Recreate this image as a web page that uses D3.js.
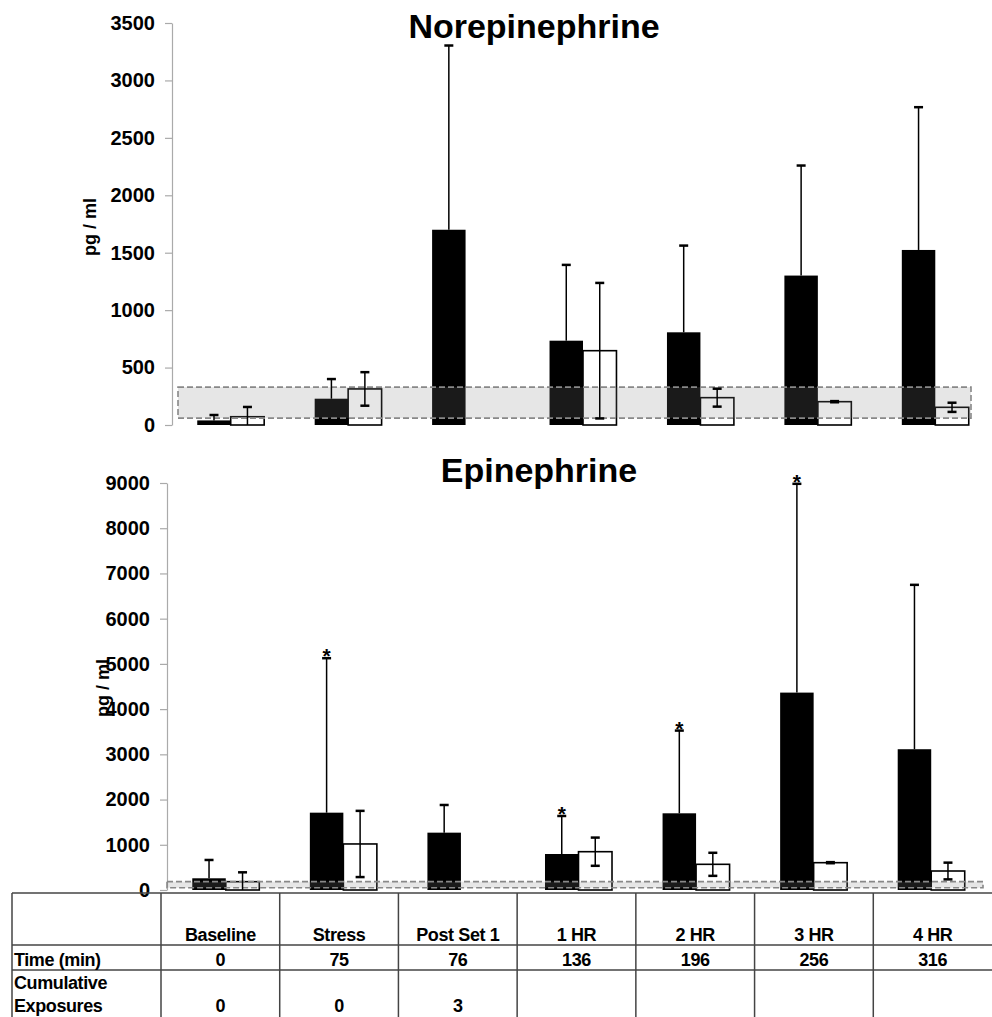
<!DOCTYPE html>
<html>
<head>
<meta charset="utf-8">
<script src="https://cdn.jsdelivr.net/npm/d3@7"></script>
<style>
  body { margin: 0; background: #fff; }
  svg { display: block; font-family: "Liberation Sans", Arial, sans-serif; font-weight: bold; }
</style>
</head>
<body>
<svg width="992" height="1017"></svg>
<script>
// data
var categories = ["Baseline", "Stress", "Post Set 1", "1 HR", "2 HR", "3 HR", "4 HR"];
var timeMin = ["0", "75", "76", "136", "196", "256", "316"];
var exposures = ["0", "0", "3", "", "", "", ""];

// Norepinephrine (black = group A, white = group B), mean and SD
var neBlack = [40, 229, 1700, 734, 807, 1301, 1524];
var neBlackErr = [47, 171, 1604, 660, 755, 958, 1243];
var neWhite = [72, 314, null, 647, 238, 203, 154];
var neWhiteErr = [85, 146, null, 590, 78, 5, 40];
var neRange = [60, 330];
var neTicks = [0, 500, 1000, 1500, 2000, 2500, 3000, 3500];

// Epinephrine
var epBlack = [259, 1710, 1268, 796, 1696, 4365, 3113];
var epBlackErr = [405, 3416, 612, 841, 1829, 4617, 3635];
var epWhite = [184, 1018, null, 847, 568, 604, 420];
var epWhiteErr = [207, 732, null, 312, 255, 12, 185];
var epStar = [false, true, false, true, true, true, false];
var epRange = [50, 185];
var epTicks = [0, 1000, 2000, 3000, 4000, 5000, 6000, 7000, 8000, 9000];

var svg = d3.select("svg");

function drawPanel(opt) {
  var g = svg.append("g");
  var x = d3.scaleBand().domain(categories).range(opt.xr).paddingInner(0.43).paddingOuter(0.215);
  var x1 = d3.scaleBand().domain(["b", "w"]).range([0, x.bandwidth()]);
  var y = d3.scaleLinear().domain([0, opt.max]).range(opt.yr);

  // y axis
  var ax = g.append("g")
      .attr("transform", "translate(" + opt.xr[0] + ",0)")
      .call(d3.axisLeft(y).tickValues(opt.ticks).tickFormat(d3.format("d"))
            .tickSize(7).tickSizeOuter(0).tickPadding(10));
  ax.select(".domain").attr("stroke", "#aaa").attr("stroke-width", 1.2);
  ax.selectAll(".tick line").attr("stroke", "#aaa").attr("stroke-width", 1.2);
  ax.selectAll("text").attr("fill", "#000").style("font-size", "20px").style("font-weight", "bold")
      .style("font-family", "'Liberation Sans', Arial, sans-serif");

  var rows = categories.map(function(c, i) {
    return { cat: c, b: opt.black[i], be: opt.blackErr[i], w: opt.white[i], we: opt.whiteErr[i],
             star: opt.star ? opt.star[i] : false };
  });

  // black bars
  g.selectAll(".bb").data(rows).enter().append("rect")
      .attr("x", function(d) { return x(d.cat) + x1("b"); })
      .attr("y", function(d) { return y(d.b); })
      .attr("width", x1.bandwidth())
      .attr("height", function(d) { return y(0) - y(d.b); })
      .attr("fill", "#000");

  // white bars
  var wr = rows.filter(function(d) { return d.w != null; });
  g.selectAll(".wb").data(wr).enter().append("rect")
      .attr("x", function(d) { return x(d.cat) + x1("w"); })
      .attr("y", function(d) { return y(d.w); })
      .attr("width", x1.bandwidth())
      .attr("height", function(d) { return y(0) - y(d.w); })
      .attr("fill", "#fff").attr("stroke", "#000").attr("stroke-width", 1.6);

  // normal range band, laid over the bars
  g.append("rect")
      .attr("x", opt.xr[0] + opt.bandInset[0])
      .attr("y", y(opt.range[1]))
      .attr("width", opt.xr[1] - opt.xr[0] - opt.bandInset[0] - opt.bandInset[1])
      .attr("height", y(opt.range[0]) - y(opt.range[1]))
      .attr("fill", "rgba(128,128,128,0.2)")
      .attr("stroke", "#888").attr("stroke-width", 1.6).attr("stroke-dasharray", "6,3");

  // error bars
  var cap = 4.5;
  rows.forEach(function(d) {
    var cx = x(d.cat) + x1("b") + x1.bandwidth() / 2;
    var top = y(d.b + d.be);
    g.append("line").attr("x1", cx).attr("x2", cx).attr("y1", y(d.b)).attr("y2", top)
        .attr("stroke", "#000").attr("stroke-width", 1.5);
    g.append("line").attr("x1", cx - cap).attr("x2", cx + cap).attr("y1", top).attr("y2", top)
        .attr("stroke", "#000").attr("stroke-width", 2.5);
    if (d.star) {
      g.append("text").attr("x", cx).attr("y", top + 5).attr("text-anchor", "middle")
          .style("font-size", "21px").text("*");
    }
    if (d.w != null) {
      var wx = x(d.cat) + x1("w") + x1.bandwidth() / 2;
      var hi = y(d.w + d.we), lo = y(Math.max(0, d.w - d.we));
      g.append("line").attr("x1", wx).attr("x2", wx).attr("y1", lo).attr("y2", hi)
          .attr("stroke", "#000").attr("stroke-width", 1.5);
      [hi, lo].forEach(function(v) {
        if (v >= y(0) - 0.5) return;
        g.append("line").attr("x1", wx - cap).attr("x2", wx + cap).attr("y1", v).attr("y2", v)
            .attr("stroke", "#000").attr("stroke-width", 2.5);
      });
    }
  });

  // title and unit label
  g.append("text").attr("x", opt.title[1]).attr("y", opt.title[2]).attr("text-anchor", "middle")
      .style("font-size", "34px").text(opt.title[0]);
  g.append("text").attr("transform", "translate(" + opt.label[0] + "," + opt.label[1] + ") rotate(-90)")
      .attr("text-anchor", "middle").attr("dy", "0.35em")
      .style("font-size", "18px").text("pg / ml");
}

drawPanel({
  xr: [172, 994], yr: [425, 23], max: 3500, ticks: neTicks,
  black: neBlack, blackErr: neBlackErr, white: neWhite, whiteErr: neWhiteErr,
  range: neRange, bandInset: [6, 23],
  title: ["Norepinephrine", 534, 38], label: [90, 227]
});

drawPanel({
  xr: [167, 990], yr: [890, 483], max: 9000, ticks: epTicks,
  black: epBlack, blackErr: epBlackErr, white: epWhite, whiteErr: epWhiteErr, star: epStar,
  range: epRange, bandInset: [0, 7],
  title: ["Epinephrine", 539, 482], label: [103, 688]
});

// table under the lower chart
var tx = d3.scaleBand().domain(categories).range([161, 992]);
var t = svg.append("g").style("letter-spacing", "-0.4px");
var rowY = [893, 945, 970];
rowY.forEach(function(v) {
  t.append("line").attr("x1", 12).attr("x2", 992).attr("y1", v).attr("y2", v)
      .attr("stroke", "#444").attr("stroke-width", 1.5);
});
[12].concat(categories.map(function(c) { return tx(c); })).forEach(function(v) {
  t.append("line").attr("x1", v).attr("x2", v).attr("y1", 893).attr("y2", 1017)
      .attr("stroke", "#444").attr("stroke-width", 1.5);
});
t.selectAll(".hd").data(categories).enter().append("text")
    .attr("x", function(d) { return tx(d) + tx.bandwidth() / 2; }).attr("y", 941)
    .attr("text-anchor", "middle").style("font-size", "18px").text(function(d) { return d; });
t.selectAll(".tm").data(timeMin).enter().append("text")
    .attr("x", function(d, i) { return tx(categories[i]) + tx.bandwidth() / 2; }).attr("y", 966)
    .attr("text-anchor", "middle").style("font-size", "18px").text(function(d) { return d; });
t.selectAll(".ex").data(exposures).enter().append("text")
    .attr("x", function(d, i) { return tx(categories[i]) + tx.bandwidth() / 2; }).attr("y", 1012)
    .attr("text-anchor", "middle").style("font-size", "18px").text(function(d) { return d; });
t.append("text").attr("x", 14).attr("y", 966).style("font-size", "18px").text("Time (min)");
t.append("text").attr("x", 14).attr("y", 989).style("font-size", "18px").text("Cumulative");
t.append("text").attr("x", 14).attr("y", 1012).style("font-size", "18px").text("Exposures");
</script>
</body>
</html>
